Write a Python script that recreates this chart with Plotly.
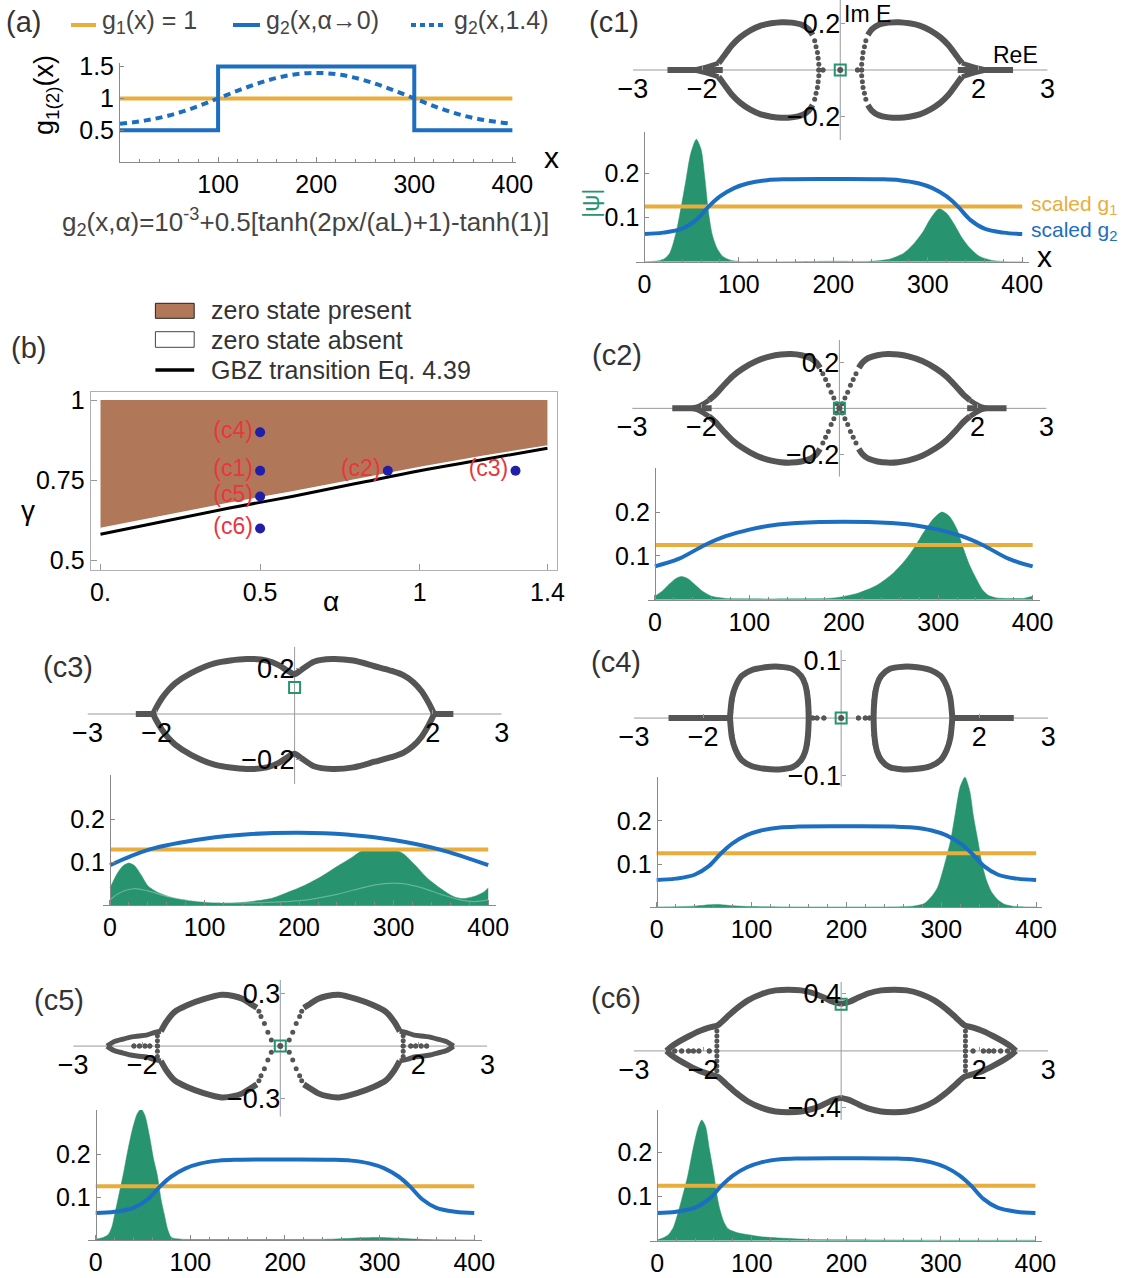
import plotly.graph_objects as go

W, H = 1126, 1278

ORANGE = "#E9AD3B"
BLUE = "#1C6EC1"
GREEN = "#27936F"
GREY = "#555555"
AXGREY = "#9a9a9a"
BROWN = "#B07859"
TEXT = "#333333"
FONT = "Liberation Sans, Arial, sans-serif"

# ---------------- data: panel (a) ----------------
A_X_G1 = [0, 400]
A_G1 = [1.0, 1.0]
A_X_STEP = [0, 100, 300, 400]
A_G2_STEP = [0.5, 1.5, 0.5, 0.5]
A_X_SMOOTH = [0, 25, 50, 75, 100, 125, 150, 175, 200, 225, 250, 275, 300, 325, 350, 375, 400]
A_G2_SMOOTH = [0.60, 0.65, 0.73, 0.85, 1.00, 1.15, 1.28, 1.37, 1.40, 1.37, 1.28, 1.15, 1.00, 0.85, 0.73, 0.65, 0.60]
A_XTICKS = [100, 200, 300, 400]
A_YTICKS = [0.5, 1, 1.5]
A_YTICKTEXT = ["0.5", "1", "1.5"]

# ---------------- data: panel (b) ----------------
B_ALPHA = [0.0, 0.2, 0.4, 0.6, 0.8, 1.0, 1.2, 1.4]
B_GAMMA_EDGE = [0.600, 0.640, 0.678, 0.714, 0.752, 0.790, 0.825, 0.857]
B_GAMMA_GBZ = [0.582, 0.623, 0.663, 0.700, 0.740, 0.780, 0.815, 0.850]
B_TOP = [1.0, 1.0]
B_TOP_ALPHA = [1.4, 0.0]
B_PT_ALPHA = [0.5, 0.5, 0.5, 0.5, 0.9, 1.3]
B_PT_GAMMA = [0.90, 0.78, 0.70, 0.60, 0.78, 0.78]
B_PT_LABEL = ["(c4)", "(c1)", "(c5)", "(c6)", "(c2)", "(c3)"]
B_XTICKS = [0, 0.5, 1, 1.4]
B_XTICKTEXT = ["0.", "0.5", "1", "1.4"]
B_YTICKS = [0.5, 0.75, 1]
B_YTICKTEXT = ["0.5", "0.75", "1"]

# ---------------- data: wavefunction panels ----------------
WAVE_XTICKS = [0, 100, 200, 300, 400]
WAVE_YTICKS = [0.1, 0.2]
X_ORANGE = [0, 400]
G1_SCALED = [0.125, 0.125]
G1_SCALED_C3 = [0.13, 0.13]

X_G2_A05 = [0, 20, 40, 55, 68, 80, 95, 110, 130, 150, 200, 250, 270, 290, 305, 320, 332, 345, 360, 380, 400]
G2_A05 = [0.063, 0.066, 0.075, 0.095, 0.125, 0.148, 0.167, 0.178, 0.185, 0.187, 0.1875,
          0.187, 0.185, 0.178, 0.167, 0.148, 0.125, 0.095, 0.075, 0.066, 0.063]
X_G2_A09 = [0, 25, 53, 75, 100, 125, 150, 200, 250, 275, 300, 325, 347, 375, 400]
G2_A09 = [0.076, 0.093, 0.125, 0.145, 0.160, 0.170, 0.175, 0.178, 0.175, 0.170, 0.160, 0.145, 0.125, 0.093, 0.076]
X_G2_A13 = [0, 42, 100, 150, 200, 250, 300, 348, 400]
G2_A13 = [0.093, 0.130, 0.155, 0.166, 0.169, 0.165, 0.152, 0.130, 0.093]

PSI_C1_X = [0, 15, 22, 27, 31, 35, 39, 44, 49, 55, 60, 64, 68, 72, 77, 83, 92, 105, 150, 200,
            240, 260, 275, 285, 295, 303, 312, 320, 328, 336, 345, 355, 368, 385, 400]
PSI_C1_Y = [0, 0.002, 0.008, 0.02, 0.045, 0.08, 0.125, 0.185, 0.245, 0.278, 0.255, 0.19, 0.11, 0.06, 0.03,
            0.012, 0.003, 0.0, 0.0, 0.001, 0.001, 0.006, 0.02, 0.04, 0.068, 0.098, 0.12, 0.11, 0.085, 0.055,
            0.03, 0.012, 0.003, 0.0, 0.0]
PSI_C2_X = [0, 8, 15, 22, 28, 35, 42, 50, 60, 75, 100, 150, 190, 215, 235, 252, 265, 275, 285, 295,
            304, 312, 320, 326, 333, 341, 347, 353, 362, 375, 390, 400]
PSI_C2_Y = [0.008, 0.02, 0.035, 0.048, 0.053, 0.048, 0.035, 0.02, 0.008, 0.003, 0.002, 0.002, 0.004,
            0.015, 0.033, 0.06, 0.09, 0.12, 0.155, 0.185, 0.2, 0.19, 0.16, 0.121, 0.08, 0.045, 0.022,
            0.01, 0.004, 0.003, 0.003, 0.008]
PSI_C3_X = [0, 8, 14, 20, 26, 33, 40, 50, 65, 85, 110, 140, 170, 185, 205, 223, 240, 255, 265, 272,
            285, 300, 310, 322, 336, 350, 363, 373, 385, 395, 400]
PSI_C3_Y = [0.04, 0.075, 0.092, 0.098, 0.092, 0.07, 0.045, 0.03, 0.018, 0.01, 0.005, 0.006, 0.015,
            0.027, 0.045, 0.066, 0.09, 0.11, 0.125, 0.13, 0.13, 0.13, 0.12, 0.095, 0.062, 0.038, 0.02,
            0.015, 0.02, 0.03, 0.04]
PSI_C3_LOW_X = [0, 10, 25, 40, 60, 80, 110, 150, 200, 240, 270, 290, 310, 330, 350, 370, 385, 400]
PSI_C3_LOW_Y = [0.012, 0.028, 0.038, 0.033, 0.02, 0.012, 0.006, 0.005, 0.01, 0.025, 0.042, 0.05, 0.05,
                0.04, 0.025, 0.012, 0.008, 0.012]
PSI_C4_X = [0, 40, 55, 65, 80, 100, 200, 270, 282, 290, 296, 301, 306, 310, 315, 320, 325, 330, 334,
            338.5, 343, 348, 353, 359, 366, 375, 390, 400]
PSI_C4_Y = [0, 0.002, 0.005, 0.006, 0.003, 0.001, 0.0, 0.002, 0.008, 0.025, 0.045, 0.079, 0.12, 0.156,
            0.22, 0.28, 0.302, 0.27, 0.21, 0.156, 0.1, 0.06, 0.035, 0.018, 0.007, 0.002, 0.0, 0.0]
PSI_C5_X = [0, 8, 13, 17, 20, 24, 29, 34, 39, 44, 48, 52, 57, 61, 65, 69, 72.5, 76, 80, 90, 150, 250,
            280, 300, 320, 350, 400]
PSI_C5_Y = [0.002, 0.006, 0.012, 0.03, 0.059, 0.1, 0.152, 0.21, 0.26, 0.295, 0.305, 0.29, 0.24, 0.19,
            0.152, 0.095, 0.059, 0.025, 0.006, 0.002, 0.001, 0.002, 0.005, 0.006, 0.004, 0.001, 0.0]
PSI_C6_X = [0, 6, 12, 17, 21.4, 26, 32.4, 38, 43, 47, 51, 55, 60, 63, 66, 70, 75, 85, 95, 110, 130,
            160, 200, 300, 400]
PSI_C6_Y = [0.002, 0.006, 0.014, 0.03, 0.059, 0.095, 0.149, 0.21, 0.255, 0.274, 0.26, 0.21, 0.149,
            0.105, 0.073, 0.045, 0.027, 0.018, 0.014, 0.009, 0.006, 0.003, 0.002, 0.001, 0.001]

# ---------------- data: spectra (upper-right quadrant of symmetric loops) ----------------
SPEC_XTICKS = [-3, -2, 2, 3]
SPEC_XTICKTEXT = ["\u22123", "\u22122", "2", "3"]
SPEC_XRANGE = [-3, 3]

C1_LOOP_RE = [0.40, 0.46, 0.55, 0.70, 0.85, 1.00, 1.15, 1.30, 1.45, 1.57, 1.66, 1.72, 1.76]
C1_LOOP_IM = [0.150, 0.175, 0.193, 0.203, 0.205, 0.200, 0.190, 0.170, 0.140, 0.105, 0.070, 0.045, 0.030]
C1_WHISK_RE = [1.76, 1.88, 2.00, 2.12]
C1_WHISK_IM = [0.030, 0.018, 0.008, 0.0]
C1_TAIL = [1.70, 2.50]
C1_DOT_RE = [0.25, 0.31, 0.31, 0.32, 0.33, 0.35, 0.37]
C1_DOT_IM = [0.0, 0.0, 0.025, 0.05, 0.075, 0.10, 0.125]
C1_MODE = [0.0, 0.0]

C2_LOOP_RE = [0.28, 0.34, 0.42, 0.55, 0.70, 0.85, 1.00, 1.20, 1.40, 1.55, 1.68, 1.80, 1.89]
C2_LOOP_IM = [0.175, 0.200, 0.218, 0.230, 0.235, 0.233, 0.225, 0.205, 0.172, 0.138, 0.098, 0.058, 0.035]
C2_WHISK_RE = [1.89, 1.98, 2.06, 2.14]
C2_WHISK_IM = [0.035, 0.018, 0.006, 0.0]
C2_TAIL = [1.85, 2.42]
C2_DOT_RE = [0.0, 0.04, 0.08, 0.12, 0.16, 0.20, 0.24]
C2_DOT_IM = [0.0, 0.02, 0.045, 0.07, 0.10, 0.125, 0.15]
C2_MODE = [0.0, 0.0]

C3_UP_RE = [-2.05, -2.0, -1.92, -1.83, -1.73, -1.5, -1.16, -0.7, -0.4, -0.23, -0.1, 0.0, 0.1, 0.28,
            0.54, 0.85, 1.16, 1.4, 1.58, 1.72, 1.84, 1.94, 1.99, 2.02]
C3_UP_IM = [0.0, 0.03, 0.07, 0.105, 0.135, 0.18, 0.223, 0.242, 0.235, 0.215, 0.19, 0.175, 0.195, 0.23,
            0.242, 0.235, 0.21, 0.19, 0.17, 0.14, 0.1, 0.05, 0.02, 0.0]
C3_TAIL = [2.0, 2.30]
C3_MODE = [0.0, 0.117]

C4_LOOP_RE = [0.47, 0.475, 0.49, 0.52, 0.58, 0.70, 0.90, 1.10, 1.30, 1.44, 1.53, 1.58, 1.60, 1.61]
C4_LOOP_IM = [0.0, 0.02, 0.04, 0.058, 0.073, 0.085, 0.089, 0.088, 0.083, 0.073, 0.055, 0.035, 0.015, 0.0]
C4_TAIL = [1.60, 2.50]
C4_DOT_RE = [0.25, 0.35, 0.41, 0.47, 0.475, 0.49, 1.60, 1.58]
C4_DOT_IM = [0.0, 0.0, 0.0, 0.01, 0.03, 0.045, 0.01, 0.03]
C4_MODE = [0.0, 0.0]

C5_LOOP_RE = [0.34, 0.44, 0.55, 0.68, 0.85, 1.11, 1.35, 1.53, 1.65, 1.73]
C5_LOOP_IM = [0.22, 0.245, 0.272, 0.288, 0.295, 0.27, 0.235, 0.197, 0.14, 0.085]
C5_WHISK_RE = [1.73, 1.85, 1.94, 2.05, 2.15, 2.28, 2.41, 2.51]
C5_WHISK_IM = [0.085, 0.075, 0.063, 0.058, 0.053, 0.04, 0.025, 0.0]
C5_DOT_RE = [0.13, 0.18, 0.23, 0.28, 0.31, 1.78, 1.78, 1.78, 1.89, 1.96, 2.04, 2.12]
C5_DOT_IM = [0.035, 0.08, 0.13, 0.17, 0.20, 0.0, 0.03, 0.06, 0.0, 0.0, 0.0, 0.0]
C5_MODE = [0.0, 0.0]

C6_HALF_RE = [0.0, 0.12, 0.25, 0.4, 0.58, 0.76, 0.95, 1.15, 1.35, 1.52, 1.66, 1.79, 1.9, 2.05, 2.2,
              2.35, 2.46, 2.53]
C6_HALF_IM = [0.33, 0.345, 0.375, 0.405, 0.425, 0.43, 0.425, 0.4, 0.355, 0.295, 0.235, 0.18, 0.165,
              0.14, 0.105, 0.065, 0.03, 0.0]
C6_DOT_RE = [1.8, 1.8, 1.8, 1.8, 1.8, 1.91, 2.06, 2.14, 2.21, 2.31, 2.41]
C6_DOT_IM = [0.0, 0.035, 0.07, 0.105, 0.14, 0.0, 0.0, 0.0, 0.0, 0.0, 0.0]
C6_MODE = [0.0, 0.327]


# ---------------- helpers ----------------
def ax_key(n, kind):
    return f"{kind}axis" if n == 1 else f"{kind}axis{n}"


def ax_ref(n, kind):
    return kind if n == 1 else f"{kind}{n}"


def xdom(a, b):
    return [a / W, b / W]


def ydom(top, bot):
    return [1 - bot / H, 1 - top / H]


def zero_pos(dom, rng):
    return dom[0] + (0 - rng[0]) / (rng[1] - rng[0]) * (dom[1] - dom[0])


def mirror4(re, im):
    xs, ys = [], []
    for sx, sy in [(1, 1), (1, -1), (-1, 1), (-1, -1)]:
        xs += [sx * r for r in re] + [None]
        ys += [sy * v for v in im] + [None]
    return xs, ys


def tails(t):
    return [t[0], t[1], None, -t[0], -t[1]], [0, 0, None, 0, 0]


layout_axes = {}
traces = []
annotations = []
shapes = []


def ann(text, x, y, size, color=TEXT, xanchor="center", yanchor="middle", angle=0):
    annotations.append(dict(text=text, x=x / W, y=1 - y / H, xref="paper", yref="paper",
                            showarrow=False, xanchor=xanchor, yanchor=yanchor, textangle=angle,
                            font=dict(size=size, color=color, family=FONT)))


def hline(x0, x1, y, color, width, dash=None):
    d = dict(type="line", xref="paper", yref="paper", x0=x0 / W, x1=x1 / W, y0=1 - y / H, y1=1 - y / H,
             line=dict(color=color, width=width))
    if dash:
        d["line"]["dash"] = dash
    shapes.append(d)


def add(n, **kw):
    traces.append(go.Scatter(xaxis=ax_ref(n, "x"), yaxis=ax_ref(n, "y"), hoverinfo="skip",
                             showlegend=False, **kw))


def spec_axes(n, xd, yd, yr, yv, ytxt):
    xdn = xdom(*xd)
    ydn = ydom(*yd)
    xr = SPEC_XRANGE
    layout_axes[ax_key(n, "x")] = dict(
        domain=xdn, range=xr, anchor="free", position=zero_pos(ydn, yr), automargin=False,
        showline=False, showgrid=False, zeroline=False,
        tickvals=SPEC_XTICKS, ticktext=SPEC_XTICKTEXT, ticks="inside", ticklen=4, tickcolor=AXGREY,
        tickfont=dict(size=27, color="black", family=FONT), fixedrange=True)
    layout_axes[ax_key(n, "y")] = dict(
        domain=ydn, range=yr, anchor="free", position=zero_pos(xdn, xr), automargin=False,
        showline=False, showgrid=False, zeroline=False,
        tickvals=yv, ticktext=ytxt, ticks="inside", ticklen=4, tickcolor=AXGREY,
        tickfont=dict(size=27, color="black", family=FONT), fixedrange=True)
    # axis lines drawn beneath the spectrum
    add(n, x=xr, y=[0, 0], mode="lines", line=dict(color=AXGREY, width=1))
    add(n, x=[0, 0], y=yr, mode="lines", line=dict(color=AXGREY, width=1))


def wave_axes(n, xd, xr, yd, yr):
    xdn = xdom(*xd)
    ydn = ydom(*yd)
    layout_axes[ax_key(n, "x")] = dict(
        domain=xdn, range=xr, anchor=ax_ref(n, "y"), automargin=False,
        showline=True, linecolor="#8a8a8a", linewidth=1, showgrid=False, zeroline=False,
        tickvals=WAVE_XTICKS, ticks="inside", ticklen=5, tickcolor="#8a8a8a",
        minor=dict(tick0=0, dtick=20, ticks="inside", ticklen=3, tickcolor="#8a8a8a"),
        tickfont=dict(size=25, color="black", family=FONT), fixedrange=True)
    layout_axes[ax_key(n, "y")] = dict(
        domain=ydn, range=yr, anchor="free", position=zero_pos(xdn, xr), automargin=False,
        showline=True, linecolor="#8a8a8a", linewidth=1, showgrid=False, zeroline=False,
        tickvals=WAVE_YTICKS, ticktext=["0.1", "0.2"], ticks="inside", ticklen=4, tickcolor="#8a8a8a",
        tickfont=dict(size=25, color="black", family=FONT), fixedrange=True)


def spec_line(n, xs, ys, width=6):
    add(n, x=xs, y=ys, mode="lines",
        line=dict(color=GREY, width=width, shape="spline", smoothing=0.8))


def spec_dots(n, xs, ys, size=5):
    add(n, x=xs, y=ys, mode="markers", marker=dict(color=GREY, size=size))


def mode_box(n, mode, dot=True):
    if dot:
        spec_dots(n, [mode[0]], [mode[1]], size=6)
    add(n, x=[mode[0]], y=[mode[1]], mode="markers",
        marker=dict(symbol="square-open", size=11, color=GREEN, line=dict(width=2, color=GREEN)))


def wave_traces(n, px, py, gx, gy, oy):
    add(n, x=px, y=py, mode="lines", line=dict(color=GREEN, width=0.5, shape="spline", smoothing=0.7),
        fill="tozeroy", fillcolor=GREEN)
    add(n, x=X_ORANGE, y=oy, mode="lines", line=dict(color=ORANGE, width=4))
    add(n, x=gx, y=gy, mode="lines", line=dict(color=BLUE, width=4, shape="spline", smoothing=1.0))


# ---------------- panel (a) ----------------
layout_axes["xaxis"] = dict(
    domain=xdom(120, 516.3), range=[0, 404], anchor="y", showline=True, linecolor="#8a8a8a",
    showgrid=False, zeroline=False, tickvals=A_XTICKS, ticks="inside", ticklen=5, tickcolor="#8a8a8a",
    minor=dict(tick0=0, dtick=20, ticks="inside", ticklen=3, tickcolor="#8a8a8a"), automargin=False,
    tickfont=dict(size=25, color="black", family=FONT), fixedrange=True)
layout_axes["yaxis"] = dict(
    domain=ydom(63, 162), range=[0, 1.556], anchor="x", showline=True, linecolor="#8a8a8a",
    showgrid=False, zeroline=False, tickvals=A_YTICKS, ticktext=A_YTICKTEXT, ticks="inside",
    automargin=False, ticklen=4, tickcolor="#8a8a8a", tickfont=dict(size=25, color="black", family=FONT),
    fixedrange=True)
add(1, x=A_X_G1, y=A_G1, mode="lines", line=dict(color=ORANGE, width=4))
add(1, x=A_X_SMOOTH, y=A_G2_SMOOTH, mode="lines",
    line=dict(color=BLUE, width=4, dash="7px,5px", shape="spline"))
add(1, x=A_X_STEP, y=A_G2_STEP, mode="lines", line=dict(color=BLUE, width=4, shape="hv"))

ann("(a)", 23, 22, 29)
hline(71, 96, 25, ORANGE, 4)
ann("g<sub>1</sub>(x) = 1", 100, 22, 25, color="#444", xanchor="left")
hline(233, 260, 25, BLUE, 4)
ann("g<sub>2</sub>(x,\u03b1\u21920)", 263.5, 22, 25, color="#444", xanchor="left")
hline(411, 443, 25, BLUE, 4, dash="5px,4px")
ann("g<sub>2</sub>(x,1.4)", 452, 22, 25, color="#444", xanchor="left")
ann("g<sub>1(2)</sub>(x)", 46, 95, 27, color="black", angle=-90)
ann("x", 551, 157, 30, color="black")
ann("g<sub>2</sub>(x,\u03b1)=10<sup>-3</sup>+0.5[tanh(2px/(aL)+1)-tanh(1)]", 305, 222, 26, color="#444")

# ---------------- panel (b) ----------------
layout_axes["xaxis2"] = dict(
    domain=xdom(90.6, 556.7), range=[-0.031, 1.429], anchor="y2", showline=True, mirror=True,
    linecolor="#b0b0b0", showgrid=False, zeroline=False, tickvals=B_XTICKS, ticktext=B_XTICKTEXT,
    ticks="inside", ticklen=6, tickcolor="#999", tickfont=dict(size=25, color="black", family=FONT),
    automargin=False, fixedrange=True)
layout_axes["yaxis2"] = dict(
    domain=ydom(391.7, 570), range=[0.471, 1.026], anchor="x2", showline=True, mirror=True,
    linecolor="#b0b0b0", showgrid=False, zeroline=False, tickvals=B_YTICKS, ticktext=B_YTICKTEXT,
    ticks="inside", ticklen=6, tickcolor="#999", tickfont=dict(size=25, color="black", family=FONT),
    automargin=False, fixedrange=True)
add(2, x=B_ALPHA + B_TOP_ALPHA, y=B_GAMMA_EDGE + B_TOP, mode="lines", fill="toself",
    fillcolor=BROWN, line=dict(width=0, color=BROWN))
add(2, x=B_ALPHA, y=B_GAMMA_EDGE, mode="lines", line=dict(color="white", width=1.5))
add(2, x=B_ALPHA, y=B_GAMMA_GBZ, mode="lines", line=dict(color="black", width=3, shape="spline"))
add(2, x=B_PT_ALPHA, y=B_PT_GAMMA, mode="markers+text", text=B_PT_LABEL, textposition="middle left",
    textfont=dict(size=23, color="#E8363C", family=FONT), marker=dict(color="#1F1FA8", size=10),
    cliponaxis=False)

ann("(b)", 28, 348, 29)
shapes.append(dict(type="rect", xref="paper", yref="paper", x0=155.4 / W, x1=194.2 / W,
                   y0=1 - 318.3 / H, y1=1 - 303.3 / H, fillcolor=BROWN, line=dict(color="#222", width=1)))
shapes.append(dict(type="rect", xref="paper", yref="paper", x0=155.4 / W, x1=194.2 / W,
                   y0=1 - 347.3 / H, y1=1 - 331.7 / H, fillcolor="white", line=dict(color="#444", width=1)))
hline(155.4, 194.2, 370, "black", 3.5)
ann("zero state present", 209, 310, 25, xanchor="left")
ann("zero state absent", 209, 340, 25, xanchor="left")
ann("GBZ transition Eq. 4.39", 209, 370, 25, xanchor="left")
ann("\u03b3", 28, 510, 28, color="black")
ann("\u03b1", 331, 601, 28, color="black")

# ---------------- panel (c1) ----------------
spec_axes(3, (632.9, 1047.6), (0, 140), [-0.3, 0.3], [0.2, -0.2], ["0.2", "\u22120.2"])
xs, ys = mirror4(C1_LOOP_RE, C1_LOOP_IM); spec_line(3, xs, ys)
xs, ys = mirror4(C1_WHISK_RE, C1_WHISK_IM); spec_line(3, xs, ys, width=5)
xs, ys = tails(C1_TAIL); spec_line(3, xs, ys)
xs, ys = mirror4(C1_DOT_RE, C1_DOT_IM); spec_dots(3, xs, ys)
mode_box(3, C1_MODE)
wave_axes(4, (635.7, 1029.2), [-9.2, 407.4], (131.7, 261.7), [0, 0.295])
wave_traces(4, PSI_C1_X, PSI_C1_Y, X_G2_A05, G2_A05, G1_SCALED)
ann("(c1)", 614, 22, 29)
ann("Im E", 867, 14, 23, color="black")
ann("ReE", 1015, 55, 23, color="black")
ann("|\u03c8|", 591, 203, 24, color=GREEN, angle=-90)
ann("scaled g<sub>1</sub>", 1029, 205, 21, color=ORANGE, xanchor="left")
ann("scaled g<sub>2</sub>", 1029, 231, 21, color=BLUE, xanchor="left")
ann("x", 1044, 256, 30, color="black")

# ---------------- panel (c2) ----------------
spec_axes(5, (632.2, 1046.6), (340, 476.7), [-0.296, 0.296], [0.2, -0.2], ["0.2", "\u22120.2"])
xs, ys = mirror4(C2_LOOP_RE, C2_LOOP_IM); spec_line(5, xs, ys)
xs, ys = mirror4(C2_WHISK_RE, C2_WHISK_IM); spec_line(5, xs, ys, width=5)
xs, ys = tails(C2_TAIL); spec_line(5, xs, ys)
xs, ys = mirror4(C2_DOT_RE, C2_DOT_IM); spec_dots(5, xs, ys)
mode_box(5, C2_MODE)
wave_axes(6, (647.9, 1040.3), [-7.4, 408.1], (468.3, 599.7), [0, 0.30])
wave_traces(6, PSI_C2_X, PSI_C2_Y, X_G2_A09, G2_A09, G1_SCALED)
ann("(c2)", 617, 355, 29)

# ---------------- panel (c3) ----------------
spec_axes(7, (87.5, 501.7), (646.7, 784), [-0.308, 0.296], [0.2, -0.2], ["0.2", "\u22120.2"])
spec_line(7, C3_UP_RE + [None] + C3_UP_RE, C3_UP_IM + [None] + [-v for v in C3_UP_IM])
xs, ys = tails(C3_TAIL); spec_line(7, xs, ys)
mode_box(7, C3_MODE, dot=False)
wave_axes(8, (102.9, 495.7), [-7.5, 407.9], (775, 905), [0, 0.304])
add(8, x=PSI_C3_X, y=PSI_C3_Y, mode="lines", line=dict(color=GREEN, width=0.5, shape="spline", smoothing=0.7),
    fill="tozeroy", fillcolor=GREEN)
add(8, x=PSI_C3_LOW_X, y=PSI_C3_LOW_Y, mode="lines",
    line=dict(color="rgba(255,255,255,0.3)", width=1.2, shape="spline"))
add(8, x=X_ORANGE, y=G1_SCALED_C3, mode="lines", line=dict(color=ORANGE, width=4))
add(8, x=X_G2_A13, y=G2_A13, mode="lines", line=dict(color=BLUE, width=4, shape="spline"))
ann("(c3)", 68, 667, 29)

# ---------------- panel (c4) ----------------
spec_axes(9, (634, 1048.3), (650, 786.7), [-0.119, 0.118], [0.1, -0.1], ["0.1", "\u22120.1"])
xs, ys = mirror4(C4_LOOP_RE, C4_LOOP_IM); spec_line(9, xs, ys)
xs, ys = tails(C4_TAIL); spec_line(9, xs, ys)
xs, ys = mirror4(C4_DOT_RE, C4_DOT_IM); spec_dots(9, xs, ys)
mode_box(9, C4_MODE)
wave_axes(10, (649.6, 1042.4), [-7.4, 406.6], (776.7, 907), [0, 0.303])
wave_traces(10, PSI_C4_X, PSI_C4_Y, X_G2_A05, G2_A05, G1_SCALED)
ann("(c4)", 616, 662, 29)

# ---------------- panel (c5) ----------------
spec_axes(11, (73.2, 487.4), (980, 1116.7), [-0.406, 0.38], [0.3, -0.3], ["0.3", "\u22120.3"])
xs, ys = mirror4(C5_LOOP_RE, C5_LOOP_IM); spec_line(11, xs, ys)
xs, ys = mirror4(C5_WHISK_RE, C5_WHISK_IM); spec_line(11, xs, ys, width=5)
xs, ys = mirror4(C5_DOT_RE, C5_DOT_IM); spec_dots(11, xs, ys)
mode_box(11, C5_MODE)
wave_axes(12, (87.5, 482.1), [-8.7, 408.3], (1110, 1240), [0, 0.303])
wave_traces(12, PSI_C5_X, PSI_C5_Y, X_G2_A05, G2_A05, G1_SCALED)
ann("(c5)", 59, 1000, 29)

# ---------------- panel (c6) ----------------
spec_axes(13, (634, 1048.3), (981.7, 1120), [-0.485, 0.486], [0.4, -0.4], ["0.4", "\u22120.4"])
xs, ys = mirror4(C6_HALF_RE, C6_HALF_IM); spec_line(13, xs, ys)
xs, ys = mirror4(C6_DOT_RE, C6_DOT_IM); spec_dots(13, xs, ys)
mode_box(13, C6_MODE, dot=False)
wave_axes(14, (649.6, 1042.4), [-8.1, 407.4], (1110, 1240.7), [0, 0.297])
wave_traces(14, PSI_C6_X, PSI_C6_Y, X_G2_A05, G2_A05, G1_SCALED)
ann("(c6)", 616, 998, 29)

fig = go.Figure(data=traces)
fig.update_layout(
    width=W, height=H, autosize=False,
    margin=dict(l=0, r=0, t=0, b=0, pad=0, autoexpand=False),
    paper_bgcolor="white", plot_bgcolor="rgba(0,0,0,0)", showlegend=False,
    font=dict(family=FONT, color="black"),
    annotations=annotations, shapes=shapes, **layout_axes)

PAGE_FIX = """
var gd = document.getElementById('{plot_id}');
document.documentElement.style.margin = '0';
document.documentElement.style.overflow = 'hidden';
document.body.style.margin = '0';
document.body.style.overflow = 'hidden';
gd.style.position = 'fixed';
gd.style.left = '0px';
gd.style.top = '0px';
"""
fig.write_html("out.html", config={"displayModeBar": False, "responsive": False}, post_script=PAGE_FIX)
